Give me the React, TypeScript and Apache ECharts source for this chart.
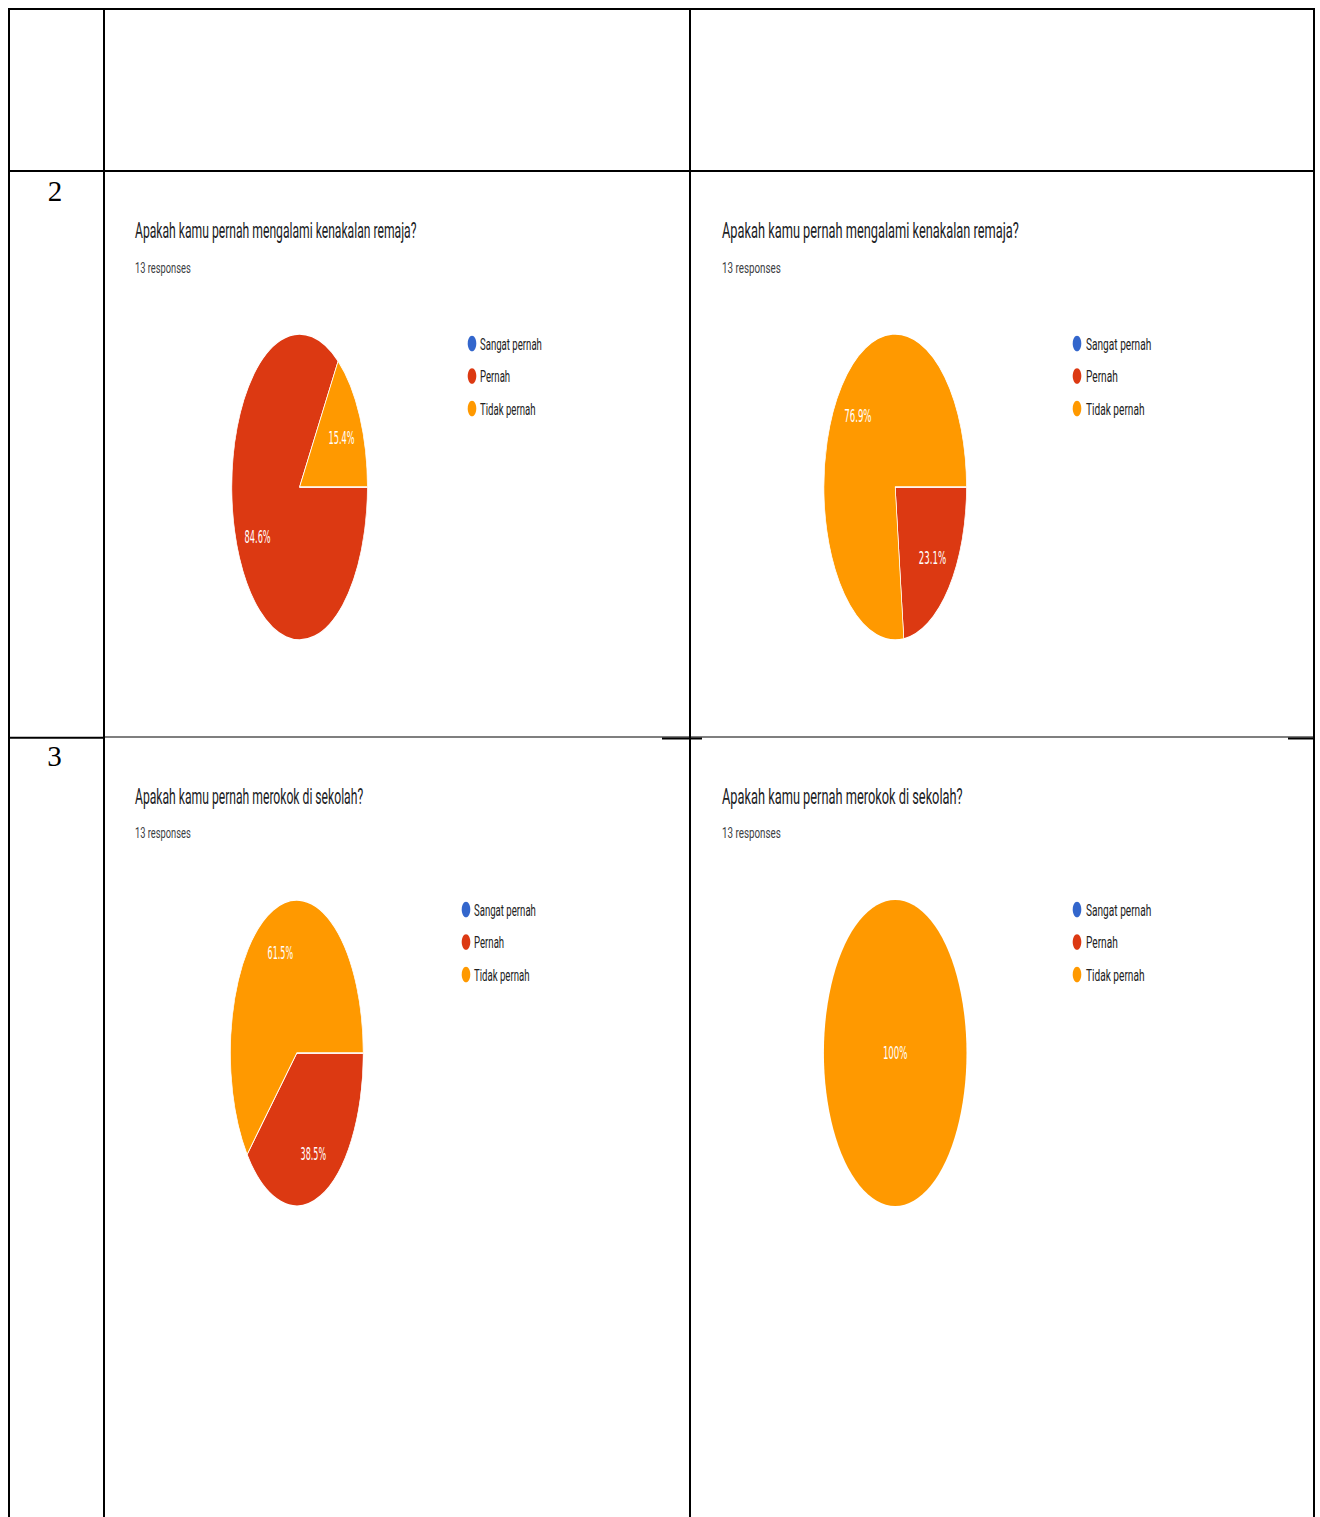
import React, { useEffect, useRef } from "react";
import * as echarts from "echarts";

// Answer options and their colours
const categories = ["Sangat pernah", "Pernah", "Tidak pernah"];
const sliceColors = ["#3366cc", "#dc3912", "#ff9900"];

// Questions and captions
const questionKenakalan = "Apakah kamu pernah mengalami kenakalan remaja?";
const questionMerokok = "Apakah kamu pernah merokok di sekolah?";
const responsesText = "13 responses";
const rowNumbers = ["2", "3"];

// Response counts per answer option (13 responses each)
const kenakalanLeft = [0, 11, 2];
const kenakalanRight = [0, 3, 10];
const merokokLeft = [0, 5, 8];
const merokokRight = [0, 0, 13];

// Unscaled pie canvas; each pie is squeezed horizontally with CSS
const PIE_W = 400;
const PIE_H = 340;
const PIE_R = 153;

// Condensed text: base horizontal squeeze per text role
const TITLE_SX = 0.565;
const RESP_SX = 0.6;
const LEGEND_SX = 0.565;

type Panel = {
  title: string;
  values: number[];
  textX: number;
  titleY: number;
  respY: number;
  textK: number;
  cx: number;
  cy: number;
  sx: number;
  dotX: number;
  legendX: number;
  legendY: number;
};

const panels: Panel[] = [
  { title: questionKenakalan, values: kenakalanLeft, textX: 135, titleY: 231, respY: 268, textK: 1, cx: 300, cy: 486.5, sx: 0.443, dotX: 472, legendX: 480, legendY: 343.5 },
  { title: questionKenakalan, values: kenakalanRight, textX: 722, titleY: 231, respY: 268, textK: 1.055, cx: 895.5, cy: 486.5, sx: 0.466, dotX: 1077, legendX: 1086, legendY: 343.5 },
  { title: questionMerokok, values: merokokLeft, textX: 135, titleY: 797, respY: 833, textK: 1, cx: 296.7, cy: 1052.5, sx: 0.434, dotX: 466, legendX: 474, legendY: 909.5 },
  { title: questionMerokok, values: merokokRight, textX: 722, titleY: 797, respY: 833, textK: 1.055, cx: 895.5, cy: 1052.5, sx: 0.466, dotX: 1077, legendX: 1086, legendY: 909.5 },
];

function PiePanel({ p }: { p: Panel }) {
  const ref = useRef<HTMLDivElement>(null);
  useEffect(() => {
    const chart = echarts.init(ref.current!, null, { renderer: "svg" });
    const total = p.values.reduce((a, b) => a + b, 0);
    const slices = categories.map((name, i) => ({
      name,
      value: p.values[i],
      itemStyle: {
        color: sliceColors[i],
        borderWidth: p.values[i] > 0 && p.values[i] < total ? 1.5 : 0,
      },
    }));
    const labelItems = categories.map((name, i) => ({
      name,
      value: p.values[i],
      label: p.values[i] === total ? { position: "center" } : {},
    }));
    const center = [PIE_W / 2, PIE_H / 2];
    chart.setOption({
      animation: false,
      series: [
        {
          type: "pie",
          center,
          radius: PIE_R,
          startAngle: 0,
          clockwise: true,
          silent: true,
          avoidLabelOverlap: false,
          itemStyle: { borderColor: "#ffffff" },
          label: { show: false },
          labelLine: { show: false },
          data: slices,
        },
        {
          // transparent ring that carries the percentage labels
          type: "pie",
          center,
          radius: [PIE_R * 0.36, PIE_R],
          startAngle: 0,
          clockwise: true,
          silent: true,
          avoidLabelOverlap: false,
          percentPrecision: 1,
          itemStyle: { color: "rgba(0,0,0,0)", borderWidth: 0 },
          label: {
            show: true,
            position: "inside",
            formatter: (q: any) => (q.value > 0 ? `${q.percent}%` : ""),
            color: "#ffffff",
            fontFamily: "DejaVu Sans",
            fontSize: 18.5,
            textBorderWidth: 0,
          },
          labelLine: { show: false },
          data: labelItems,
        },
      ],
    });
    return () => chart.dispose();
  }, [p]);
  return (
    <div
      ref={ref}
      style={{
        position: "absolute",
        left: p.cx - (PIE_W / 2) * p.sx,
        top: p.cy - PIE_H / 2,
        width: PIE_W,
        height: PIE_H,
        transform: `scaleX(${p.sx})`,
        transformOrigin: "0 0",
      }}
    />
  );
}

function TableLayer() {
  const ref = useRef<HTMLDivElement>(null);
  useEffect(() => {
    const chart = echarts.init(ref.current!, null, { renderer: "svg" });
    const els: any[] = [];
    const line = (x1: number, y1: number, x2: number, y2: number, w: number) =>
      els.push({ type: "line", silent: true, shape: { x1, y1, x2, y2 }, style: { stroke: "#000000", lineWidth: w } });
    const text = (
      str: string,
      x: number,
      y: number,
      size: number,
      color: string,
      family: string,
      sx: number,
      align = "left"
    ) =>
      els.push({
        type: "text",
        silent: true,
        x,
        y,
        scaleX: sx,
        style: {
          text: str,
          fill: color,
          fontSize: size,
          fontFamily: family,
          align,
          verticalAlign: "middle",
          textAlign: align,
          textVerticalAlign: "middle",
        },
      });

    // table grid
    line(8, 9, 1315, 9, 2);
    line(9, 8, 9, 1517, 2);
    line(104, 8, 104, 1517, 2);
    line(690, 8, 690, 1517, 2);
    line(1314, 8, 1314, 1517, 2);
    line(8, 171, 1315, 171, 2);
    line(8, 737.7, 104, 737.7, 2);
    line(104, 737, 1314, 737, 1.2);
    line(662, 738.5, 702, 738.5, 2);
    line(1288, 738.5, 1314, 738.5, 2);

    // row numbers
    text(rowNumbers[0], 55, 190.5, 29, "#000000", "Liberation Serif", 1, "center");
    text(rowNumbers[1], 54.5, 756, 29, "#000000", "Liberation Serif", 1, "center");

    panels.forEach((p) => {
      text(p.title, p.textX, p.titleY, 21.5, "#202124", "Roboto", TITLE_SX * p.textK);
      text(responsesText, p.textX, p.respY, 15.5, "#3c4043", "Roboto", RESP_SX * p.textK);
      categories.forEach((name, i) => {
        const y = p.legendY + i * 32.5;
        els.push({
          type: "ellipse",
          silent: true,
          shape: { cx: p.dotX, cy: y, rx: 4.3, ry: 7.8 },
          style: { fill: sliceColors[i] },
        });
        text(name, p.legendX, y, 17, "#222222", "Roboto", LEGEND_SX * p.textK);
      });
    });

    chart.setOption({ animation: false, graphic: { elements: els } });
    return () => chart.dispose();
  }, []);
  return <div ref={ref} style={{ position: "absolute", left: 0, top: 0, width: 1320, height: 1517 }} />;
}

export default function App() {
  return (
    <div
      style={{
        position: "fixed",
        left: 0,
        top: 0,
        width: 1320,
        height: 1517,
        overflow: "hidden",
        background: "#ffffff",
      }}
    >
      <TableLayer />
      {panels.map((p, i) => (
        <PiePanel key={i} p={p} />
      ))}
    </div>
  );
}
